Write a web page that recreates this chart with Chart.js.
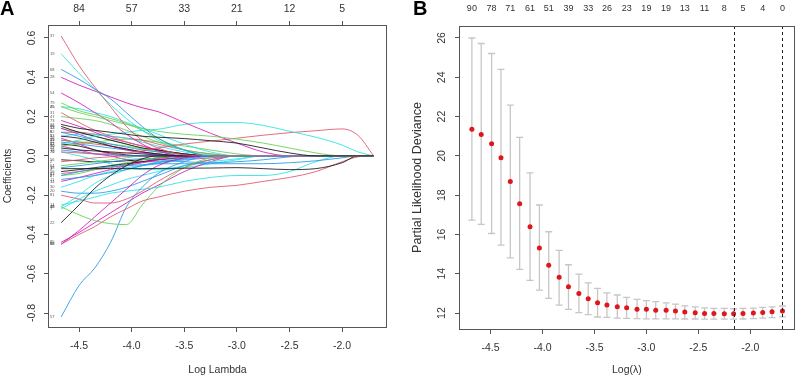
<!DOCTYPE html>
<html>
<head>
<meta charset="utf-8">
<script src="https://cdn.jsdelivr.net/npm/chart.js@4.4.0/dist/chart.umd.min.js"></script>
<style>
  html, body { margin: 0; padding: 0; background: #fff; }
  #wrap { display: flex; width: 800px; height: 381px; }
  canvas { display: block; }
</style>
</head>
<body>
<div id="wrap">
  <canvas id="coef-plot" width="400" height="381"></canvas>
  <canvas id="cv-plot" width="400" height="381"></canvas>
</div>
<script>
// ---- panel A: lasso coefficient paths ----
const logLambdaGrid = [-4.67, -4.5, -4.35, -4.2, -4.05, -3.9, -3.75, -3.5, -3.25, -3.0, -2.75, -2.5, -2.25, -2.0, -1.85, -1.7];

const coefPaths = [
  [0.16, 0.14, 0.13, 0.12, 0.11, 0.10, 0.095, 0.088, 0.077, 0.065, 0.04, 0.015, 0, 0, 0, 0],
  [0.61, 0.46, 0.35, 0.25, 0.15, 0.08, 0.04, 0.005, 0, 0, 0, 0, 0, 0, 0, 0],
  [0.25, 0.22, 0.20, 0.18, 0.16, 0.14, 0.125, 0.11, 0.10, 0.085, 0.065, 0.04, 0.015, 0, 0, 0],
  [0.44, 0.39, 0.34, 0.29, 0.22, 0.15, 0.09, 0.03, 0, 0, 0, 0, 0, 0, 0, 0],
  [0.52, 0.42, 0.34, 0.26, 0.19, 0.13, 0.08, 0.03, 0, 0, 0, 0, 0, 0, 0, 0],
  [0.40, 0.36, 0.33, 0.30, 0.27, 0.245, 0.225, 0.17, 0.115, 0.065, 0.02, 0, 0, 0, 0, 0],
  [-0.065, -0.065, -0.065, -0.065, -0.065, -0.065, -0.064, -0.063, -0.062, -0.06, -0.065, -0.07, -0.065, -0.035, 0, 0],
  [-0.45, -0.40, -0.36, -0.31, -0.27, -0.23, -0.21, -0.18, -0.16, -0.15, -0.13, -0.11, -0.08, -0.03, -0.005, 0],
  [-0.26, -0.30, -0.33, -0.345, -0.35, -0.25, -0.16, -0.06, -0.01, 0, 0, 0, 0, 0, 0, 0],
  [-0.82, -0.66, -0.57, -0.44, -0.26, -0.16, -0.09, -0.03, 0, 0, 0, 0, 0, 0, 0, 0],
  [0.06, 0.08, 0.10, 0.11, 0.12, 0.13, 0.135, 0.16, 0.17, 0.17, 0.155, 0.125, 0.095, 0.055, 0.02, 0],
  [-0.45, -0.38, -0.31, -0.24, -0.17, -0.10, -0.05, -0.01, 0, 0, 0, 0, 0, 0, 0, 0],
  [-0.34, -0.25, -0.165, -0.10, -0.05, -0.015, 0, 0, 0, 0, 0, 0, 0, 0, 0, 0],
  [0.02, 0.015, 0.01, 0.01, 0.015, 0.025, 0.04, 0.06, 0.075, 0.09, 0.105, 0.118, 0.128, 0.137, 0.105, 0],
  [0.27, 0.23, 0.21, 0.19, 0.165, 0.13, 0.09, 0.03, 0, 0, 0, 0, 0, 0, 0, 0],
  [-0.10, -0.08, -0.065, -0.055, -0.05, -0.045, -0.04, -0.04, -0.04, -0.04, -0.04, -0.035, -0.025, -0.01, 0, 0],
  [-0.25, -0.23, -0.21, -0.19, -0.18, -0.17, -0.16, -0.13, -0.11, -0.10, -0.10, -0.08, -0.03, 0, 0, 0],
  [0.32, 0.27, 0.22, 0.17, 0.11, 0.06, 0.025, 0, 0, 0, 0, 0, 0, 0, 0, 0],
  [0.15, 0.12, 0.10, 0.08, 0.06, 0.04, 0.03, 0.01, 0, 0, 0, 0, 0, 0, 0, 0],
  [0.22, 0.17, 0.13, 0.10, 0.07, 0.05, 0.03, 0.01, 0, 0, 0, 0, 0, 0, 0, 0],
  [0.20, 0.19, 0.18, 0.16, 0.13, 0.10, 0.07, 0.03, 0.01, 0, 0, 0, 0, 0, 0, 0],
  [0.12, 0.10, 0.08, 0.06, 0.045, 0.03, 0.02, 0.01, 0, 0, 0, 0, 0, 0, 0, 0],
  [0.25, 0.24, 0.22, 0.20, 0.17, 0.14, 0.11, 0.06, 0.02, 0, 0, 0, 0, 0, 0, 0],
  [0.18, 0.15, 0.12, 0.09, 0.07, 0.05, 0.03, 0.01, 0, 0, 0, 0, 0, 0, 0, 0],
  [0.10, 0.09, 0.07, 0.05, 0.035, 0.02, 0.01, 0, 0, 0, 0, 0, 0, 0, 0, 0],
  [0.08, 0.07, 0.06, 0.05, 0.035, 0.02, 0.01, 0, 0, 0, 0, 0, 0, 0, 0, 0],
  [0.05, 0.06, 0.07, 0.06, 0.05, 0.035, 0.02, 0.005, 0, 0, 0, 0, 0, 0, 0, 0],
  [0.03, 0.02, 0.01, 0.005, 0, 0, 0, 0, 0, 0, 0, 0, 0, 0, 0, 0],
  [0.10, 0.11, 0.11, 0.10, 0.09, 0.07, 0.05, 0.02, 0.005, 0, 0, 0, 0, 0, 0, 0],
  [0.14, 0.11, 0.08, 0.05, 0.03, 0.015, 0.005, 0, 0, 0, 0, 0, 0, 0, 0, 0],
  [0.06, 0.05, 0.03, 0.015, 0.005, 0, 0, 0, 0, 0, 0, 0, 0, 0, 0, 0],
  [-0.03, -0.02, -0.01, -0.005, 0, 0, 0, 0, 0, 0, 0, 0, 0, 0, 0, 0],
  [-0.05, -0.04, -0.03, -0.02, -0.01, 0, 0, 0, 0, 0, 0, 0, 0, 0, 0, 0],
  [-0.12, -0.11, -0.10, -0.085, -0.07, -0.05, -0.035, -0.015, 0, 0, 0, 0, 0, 0, 0, 0],
  [-0.26, -0.20, -0.14, -0.10, -0.07, -0.05, -0.03, -0.01, 0, 0, 0, 0, 0, 0, 0, 0],
  [-0.13, -0.11, -0.09, -0.07, -0.05, -0.035, -0.02, -0.005, 0, 0, 0, 0, 0, 0, 0, 0],
  [-0.08, -0.07, -0.06, -0.05, -0.04, -0.03, -0.02, -0.01, 0, 0, 0, 0, 0, 0, 0, 0],
  [-0.20, -0.22, -0.24, -0.24, -0.22, -0.18, -0.13, -0.06, -0.02, 0, 0, 0, 0, 0, 0, 0],
  [-0.10, -0.09, -0.07, -0.05, -0.035, -0.02, -0.01, 0, 0, 0, 0, 0, 0, 0, 0, 0],
  [-0.18, -0.19, -0.19, -0.18, -0.16, -0.13, -0.10, -0.05, -0.02, 0, 0, 0, 0, 0, 0, 0],
  [-0.27, -0.22, -0.18, -0.15, -0.12, -0.10, -0.08, -0.05, -0.03, -0.015, 0, 0, 0, 0, 0, 0],
  [-0.44, -0.39, -0.34, -0.29, -0.24, -0.19, -0.15, -0.08, -0.03, 0, 0, 0, 0, 0, 0, 0],
  [0.04, 0.03, 0.025, 0.02, 0.015, 0.01, 0.005, 0, 0, 0, 0, 0, 0, 0, 0, 0],
  [0.12, 0.12, 0.11, 0.10, 0.09, 0.08, 0.06, 0.03, 0.01, 0, 0, 0, 0, 0, 0, 0],
  [0.08, 0.07, 0.07, 0.08, 0.085, 0.08, 0.07, 0.05, 0.03, 0.01, 0, 0, 0, 0, 0, 0],
  [-0.06, -0.05, -0.04, -0.03, -0.02, -0.015, -0.02, -0.03, -0.035, -0.03, -0.02, -0.005, 0, 0, 0, 0],
  [0.02, 0, -0.02, -0.04, -0.06, -0.07, -0.07, -0.06, -0.04, -0.02, 0, 0, 0, 0, 0, 0],
  [0.09, 0.06, 0.03, 0.01, 0, 0, 0, 0, 0, 0, 0, 0, 0, 0, 0, 0],
  [-0.02, -0.025, -0.03, -0.03, -0.025, -0.02, -0.01, 0, 0, 0, 0, 0, 0, 0, 0, 0],
  [-0.09, -0.08, -0.07, -0.06, -0.045, -0.03, -0.015, 0, 0, 0, 0, 0, 0, 0, 0, 0],
  [0.14, 0.12, 0.10, 0.08, 0.06, 0.04, 0.025, 0.01, 0, 0, 0, 0, 0, 0, 0, 0],
  [0.07, 0.06, 0.05, 0.04, 0.03, 0.02, 0.01, 0, 0, 0, 0, 0, 0, 0, 0, 0],
  [-0.16, -0.13, -0.10, -0.08, -0.06, -0.05, -0.04, -0.02, -0.005, 0, 0, 0, 0, 0, 0, 0],
  [0.05, 0.03, 0.01, 0, -0.02, -0.03, -0.03, -0.02, -0.01, 0, 0, 0, 0, 0, 0, 0]
];
const pathIds = [12, 37, 45, 68, 19, 28, 3, 86, 38, 57, 61, 88, 22, 70, 79, 8, 14, 54,
  66, 31, 47, 9, 25, 73, 5, 41, 90, 16, 33, 52, 77, 2, 64, 11, 48, 34, 59, 81, 27, 20,
  7, 85, 44, 62, 39, 18, 71, 26, 56, 83, 13, 42, 30, 75];

const coefTicksX = [-4.5, -4.0, -3.5, -3.0, -2.5, -2.0];
const coefTicksY = [-0.8, -0.6, -0.4, -0.2, 0.0, 0.2, 0.4, 0.6];
const coefNonzero = [84, 57, 33, 21, 12, 5];

// ---- panel B: cross-validation curve ----
const cvLogLambda = [-4.68, -4.59, -4.49, -4.40, -4.31, -4.22, -4.12, -4.03, -3.94, -3.84, -3.75,
  -3.65, -3.56, -3.47, -3.38, -3.28, -3.19, -3.09, -3.00, -2.91, -2.81, -2.72, -2.63, -2.53,
  -2.44, -2.35, -2.25, -2.16, -2.07, -1.97, -1.88, -1.79, -1.69];
const cvMean = [21.36, 21.09, 20.62, 19.90, 18.70, 17.56, 16.39, 15.31, 14.44, 13.82, 13.34,
  13.00, 12.73, 12.52, 12.41, 12.32, 12.27, 12.20, 12.19, 12.15, 12.15, 12.10, 12.05, 12.02,
  11.98, 11.98, 11.97, 11.96, 11.98, 12.00, 12.03, 12.07, 12.10];
const cvUpper = [26.00, 25.72, 25.21, 24.40, 22.58, 20.94, 19.14, 17.50, 16.14, 15.19, 14.46,
  13.98, 13.54, 13.26, 13.03, 12.92, 12.80, 12.70, 12.63, 12.58, 12.52, 12.46, 12.37, 12.32,
  12.27, 12.24, 12.24, 12.22, 12.24, 12.25, 12.29, 12.32, 12.36];
const cvLower = [16.73, 16.51, 16.05, 15.46, 14.81, 14.22, 13.66, 13.17, 12.75, 12.41, 12.19,
  12.02, 11.92, 11.80, 11.78, 11.74, 11.73, 11.72, 11.71, 11.71, 11.71, 11.71, 11.70, 11.70,
  11.69, 11.69, 11.69, 11.69, 11.70, 11.72, 11.74, 11.77, 11.81];
const cvNonzero = [90, 78, 71, 61, 51, 39, 33, 26, 23, 19, 19, 13, 11, 8, 5, 4, 0];
const cvTicksX = [-4.5, -4.0, -3.5, -3.0, -2.5, -2.0];
const cvTicksY = [12, 14, 16, 18, 20, 22, 24, 26];
const lambdaMinLog = -2.16;
const lambda1seLog = -1.69;

// base R palette 1:6, as matplot cycles it (a little washed out, like the print)
const pathPalette = ['rgba(20,20,20,0.85)', 'rgba(223,83,107,0.85)', 'rgba(97,208,79,0.85)',
  'rgba(34,151,230,0.85)', 'rgba(40,226,229,0.85)', 'rgba(205,11,188,0.8)'];
const FONT = '"Liberation Sans", Arial, sans-serif';
const tickFont = { family: FONT, size: 10.5 };
const ink = '#333';

// box round the plot, rotated y labels (as base R draws them) and the panel letter
function framePlugin(letter, letterX, labelX) {
  return {
    id: 'frame' + letter,
    afterDraw(chart) {
      const { ctx, chartArea: a, scales } = chart;
      ctx.save();
      ctx.strokeStyle = '#555';
      ctx.lineWidth = 1;
      ctx.strokeRect(Math.round(a.left) + 0.5, Math.round(a.top) + 0.5,
        Math.round(a.right - a.left) - 1, Math.round(a.bottom - a.top));
      ctx.fillStyle = ink;
      ctx.font = '10.5px ' + FONT;
      ctx.textAlign = 'center';
      ctx.textBaseline = 'middle';
      scales.y.ticks.forEach(t => {
        const y = scales.y.getPixelForValue(t.value);
        ctx.save();
        ctx.translate(labelX, y);
        ctx.rotate(-Math.PI / 2);
        ctx.fillText(t.label, 0, 0);
        ctx.restore();
      });
      ctx.fillStyle = '#000';
      ctx.font = 'bold 20px ' + FONT;
      ctx.textAlign = 'left';
      ctx.textBaseline = 'alphabetic';
      ctx.fillText(letter, letterX, 15);
      ctx.restore();
    }
  };
}

// tiny variable numbers at the start of each path
const pathLabels = {
  id: 'pathLabels',
  afterDatasetsDraw(chart) {
    const { ctx, scales: { y }, chartArea: a } = chart;
    ctx.save();
    ctx.fillStyle = '#555';
    ctx.font = '4px ' + FONT;
    ctx.textAlign = 'left';
    ctx.textBaseline = 'middle';
    coefPaths.forEach((path, i) => {
      ctx.fillText(String(pathIds[i]), a.left + 2, y.getPixelForValue(path[0]));
    });
    ctx.restore();
  }
};

const refLines = {
  id: 'refLines',
  afterDatasetsDraw(chart) {
    const { ctx, chartArea: a, scales: { x } } = chart;
    ctx.save();
    ctx.strokeStyle = '#222';
    ctx.lineWidth = 1;
    ctx.setLineDash([3, 3]);
    [lambdaMinLog, lambda1seLog].forEach(v => {
      const px = Math.round(x.getPixelForValue(v)) + 0.5;
      ctx.beginPath();
      ctx.moveTo(px, a.top);
      ctx.lineTo(px, a.bottom);
      ctx.stroke();
    });
    ctx.restore();
  }
};

const fixTicks = vals => scale => { scale.ticks = vals.map(v => ({ value: v })); };

new Chart(document.getElementById('coef-plot'), {
  type: 'scatter',
  data: {
    datasets: coefPaths.map((path, i) => ({
      data: logLambdaGrid.map((x, j) => ({ x: x, y: path[j] })),
      xAxisID: 'x',
      showLine: true,
      borderColor: pathPalette[i % 6],
      borderWidth: 1,
      pointRadius: 0,
      cubicInterpolationMode: 'monotone'
    }))
  },
  options: {
    responsive: false,
    animation: false,
    events: [],
    layout: { padding: { left: 0, right: 13, top: 0, bottom: 0 } },
    plugins: { legend: { display: false }, tooltip: { enabled: false } },
    scales: {
      x: {
        type: 'linear', position: 'bottom', min: -4.795, max: -1.573,
        afterBuildTicks: fixTicks(coefTicksX),
        afterFit: s => { s.height = 54; },
        border: { display: false },
        grid: { drawOnChartArea: false, tickLength: 5, color: '#555' },
        ticks: { padding: 7.7, color: ink, font: tickFont, maxRotation: 0, autoSkip: false,
                 callback: v => v.toFixed(1) },
        title: { display: true, text: 'Log Lambda', color: ink, font: tickFont,
                 padding: { top: 0, bottom: 4.7 } }
      },
      xTop: {
        type: 'linear', position: 'top', min: -4.795, max: -1.573,
        afterBuildTicks: fixTicks(coefTicksX),
        afterFit: s => { s.height = 25; },
        border: { display: false },
        grid: { drawOnChartArea: false, tickLength: 4, color: '#555' },
        ticks: { padding: 5.7, color: ink, font: tickFont, maxRotation: 0, autoSkip: false,
                 callback: (v, i) => String(coefNonzero[i]) }
      },
      y: {
        type: 'linear', position: 'left', min: -0.871, max: 0.666,
        afterBuildTicks: fixTicks(coefTicksY),
        afterFit: s => { s.width = 48; },
        border: { display: false },
        grid: { drawOnChartArea: false, tickLength: 4, color: '#555' },
        ticks: { display: false, callback: v => v.toFixed(1) },
        title: { display: true, text: 'Coefficients', color: ink, font: tickFont,
                 padding: { top: 1.5, bottom: 0 } }
      }
    }
  },
  plugins: [pathLabels, framePlugin('A', 0, 32)]
});

const errorBars = [];
cvLogLambda.forEach((x, i) => {
  errorBars.push({ x: x, y: cvLower[i] }, { x: x, y: cvUpper[i] }, { x: x, y: null });
});

new Chart(document.getElementById('cv-plot'), {
  type: 'scatter',
  data: {
    datasets: [
      {
        data: cvLogLambda.map((x, i) => ({ x: x, y: cvMean[i] })),
        xAxisID: 'x',
        pointRadius: 2.5,
        pointBackgroundColor: '#e0161d',
        pointBorderWidth: 0
      },
      {
        data: errorBars,
        xAxisID: 'x',
        showLine: true,
        spanGaps: false,
        borderColor: '#c6c6c6',
        borderWidth: 1.3,
        pointStyle: 'line',
        pointRadius: 3.5,
        pointBorderColor: '#c6c6c6',
        pointBorderWidth: 1.3
      }
    ]
  },
  options: {
    responsive: false,
    animation: false,
    events: [],
    layout: { padding: { left: 0, right: 1, top: 0, bottom: 0 } },
    plugins: { legend: { display: false }, tooltip: { enabled: false } },
    scales: {
      x: {
        type: 'linear', position: 'bottom', min: -4.804, max: -1.572,
        afterBuildTicks: fixTicks(cvTicksX),
        afterFit: s => { s.height = 52; },
        border: { display: false },
        grid: { drawOnChartArea: false, tickLength: 5, color: '#555' },
        ticks: { padding: 7.7, color: ink, font: tickFont, maxRotation: 0, autoSkip: false,
                 callback: v => v.toFixed(1) },
        title: { display: true, text: 'Log(\u03bb)', color: ink, font: tickFont,
                 padding: { top: 0, bottom: 4.7 } }
      },
      xTop: {
        type: 'linear', position: 'top', min: -4.804, max: -1.572,
        afterBuildTicks: fixTicks(cvLogLambda.filter((v, i) => i % 2 === 0)),
        afterFit: s => { s.height = 26; },
        border: { display: false },
        grid: { display: false, drawTicks: false },
        ticks: { padding: 11.6, color: ink, font: { family: FONT, size: 9 }, maxRotation: 0,
                 autoSkip: false, callback: (v, i) => String(cvNonzero[i]) }
      },
      y: {
        type: 'linear', position: 'left', min: 11.19, max: 26.61,
        afterBuildTicks: fixTicks(cvTicksY),
        afterFit: s => { s.width = 59; },
        border: { display: false },
        grid: { drawOnChartArea: false, tickLength: 4, color: '#555' },
        ticks: { display: false, callback: v => String(v) },
        title: { display: true, text: 'Partial Likelihood Deviance', color: ink,
                 font: { family: FONT, size: 12.5 }, padding: { top: 10.5, bottom: 0 } }
      }
    }
  },
  plugins: [refLines, framePlugin('B', 13, 42)]
});
</script>
</body>
</html>
